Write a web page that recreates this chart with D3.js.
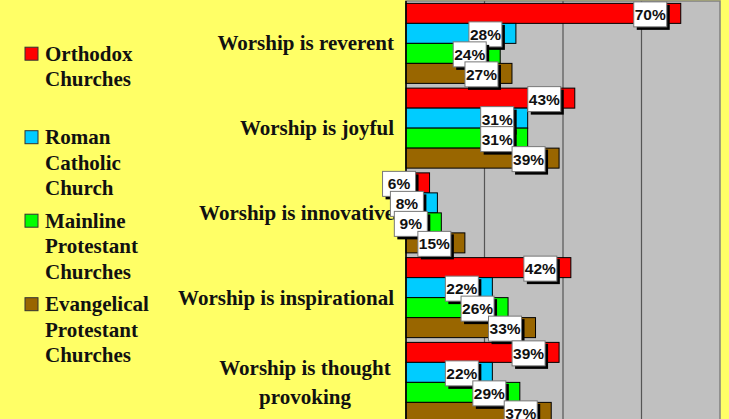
<!DOCTYPE html>
<meta charset="utf-8">
<style>
body { margin: 0; background: #ffff66; }
.cat text, .legend text { font: bold 21px "Liberation Serif", serif; fill: #111; }
.lbl text { font: bold 15.5px "Liberation Sans", Arial, sans-serif; fill: #111; text-anchor: middle; }
</style>
<body>
<script src="https://d3js.org/d3.v7.min.js"></script>
<script>

width = 729;
height = 419;

categories = ["Worship is reverent", "Worship is joyful", "Worship is innovative", "Worship is inspirational", "Worship is thought\nprovoking"];
seriesNames = ["Orthodox\nChurches", "Roman\nCatholic\nChurch", "Mainline\nProtestant\nChurches", "Evangelical\nProtestant\nChurches"];
orthodox    = [70, 43, 6, 42, 39];
catholic    = [28, 31, 8, 22, 22];
mainline    = [24, 31, 9, 26, 29];
evangelical = [27, 39, 15, 33, 37];
xTicks = [0, 20, 40, 60, 80];

colors = ["#ff0000", "#00ccff", "#00ff00", "#996600"];
series = [orthodox, catholic, mainline, evangelical];

plot = {left: 406, right: 720, top: 1, bottom: 424.75};

var svg = d3.select("body").append("svg")
    .attr("width", width)
    .attr("height", height)

svg.append("rect").attr("width", width).attr("height", height).attr("fill", "#ffff66")

x = d3.scaleLinear([0, 80], [plot.left, plot.right])

y = d3.scaleBand(categories, [plot.top, plot.bottom])
    .paddingInner(0.056)
    .paddingOuter(0.028)

ySub = d3.scaleBand(d3.range(series.length), [0, y.bandwidth()])

// plot background + grid
svg.append("rect")
    .attr("x", plot.left).attr("y", plot.top)
    .attr("width", plot.right - plot.left).attr("height", plot.bottom - plot.top)
    .attr("fill", "#c0c0c0")
    .attr("stroke", "#808080").attr("stroke-width", 1.5)

svg.append("g")
  .selectAll("line")
  .data(xTicks.slice(1, -1))
  .join("line")
    .attr("x1", d => x(d)).attr("x2", d => x(d))
    .attr("y1", plot.top).attr("y2", plot.bottom)
    .attr("stroke", "#555").attr("stroke-width", 1.2)

// bars
rows = [];
categories.forEach((c, i) => series.forEach((s, j) => rows.push({cat: c, s: j, v: s[i]})))

svg.append("g")
  .selectAll("rect")
  .data(rows)
  .join("rect")
    .attr("x", x(0))
    .attr("y", d => y(d.cat) + ySub(d.s))
    .attr("width", d => x(d.v) - x(0))
    .attr("height", ySub.bandwidth())
    .attr("fill", d => colors[d.s])
    .attr("stroke", "#000").attr("stroke-width", 1)

// axis line
svg.append("line")
    .attr("x1", plot.left).attr("x2", plot.left)
    .attr("y1", plot.top).attr("y2", plot.bottom)
    .attr("stroke", "#000").attr("stroke-width", 1.5)

// category labels
var cat = svg.append("g").attr("class", "cat")
categories.forEach(c => {
  var lines = c.split("\n")
  var cy = y(c) + y.bandwidth() / 2
  var t = cat.append("text")
      .attr("text-anchor", lines.length > 1 ? "middle" : "end")
  lines.forEach((l, k) => {
    t.append("tspan")
      .attr("x", lines.length > 1 ? 305 : 394)
      .attr("y", cy + 7 + (k - (lines.length - 1) / 2) * 29)
      .text(l)
  })
})

// data labels
var lbl = svg.append("g").attr("class", "lbl")
  .selectAll("g")
  .data(rows)
  .join("g")
    .attr("transform", d => `translate(${x(d.v) - 31},${y(d.cat) + ySub(d.s) - 1.5})`)

lbl.append("rect")
    .attr("x", -16 + 3).attr("y", 3)
    .attr("width", 33).attr("height", 25)
    .attr("fill", "#000")
lbl.append("rect")
    .attr("x", -16).attr("y", 0)
    .attr("width", 33).attr("height", 25)
    .attr("fill", "#fff")
    .attr("stroke", "#777").attr("stroke-width", 1)
lbl.append("text")
    .attr("x", 0.5).attr("y", 18)
    .text(d => d.v + "%")

// legend
var legend = svg.append("g").attr("class", "legend")
  .selectAll("g")
  .data(seriesNames)
  .join("g")
    .attr("transform", (d, i) => `translate(0,${60.7 + i * 83.5})`)

legend.append("rect")
    .attr("x", 25).attr("y", -13.5)
    .attr("width", 13).attr("height", 13)
    .attr("fill", (d, i) => colors[i])
    .attr("stroke", "#333").attr("stroke-width", 1)

legend.append("text")
  .selectAll("tspan")
  .data(d => d.split("\n"))
  .join("tspan")
    .attr("x", 45)
    .attr("y", (d, k) => k * 25.5)
    .text(d => d)

</script>
